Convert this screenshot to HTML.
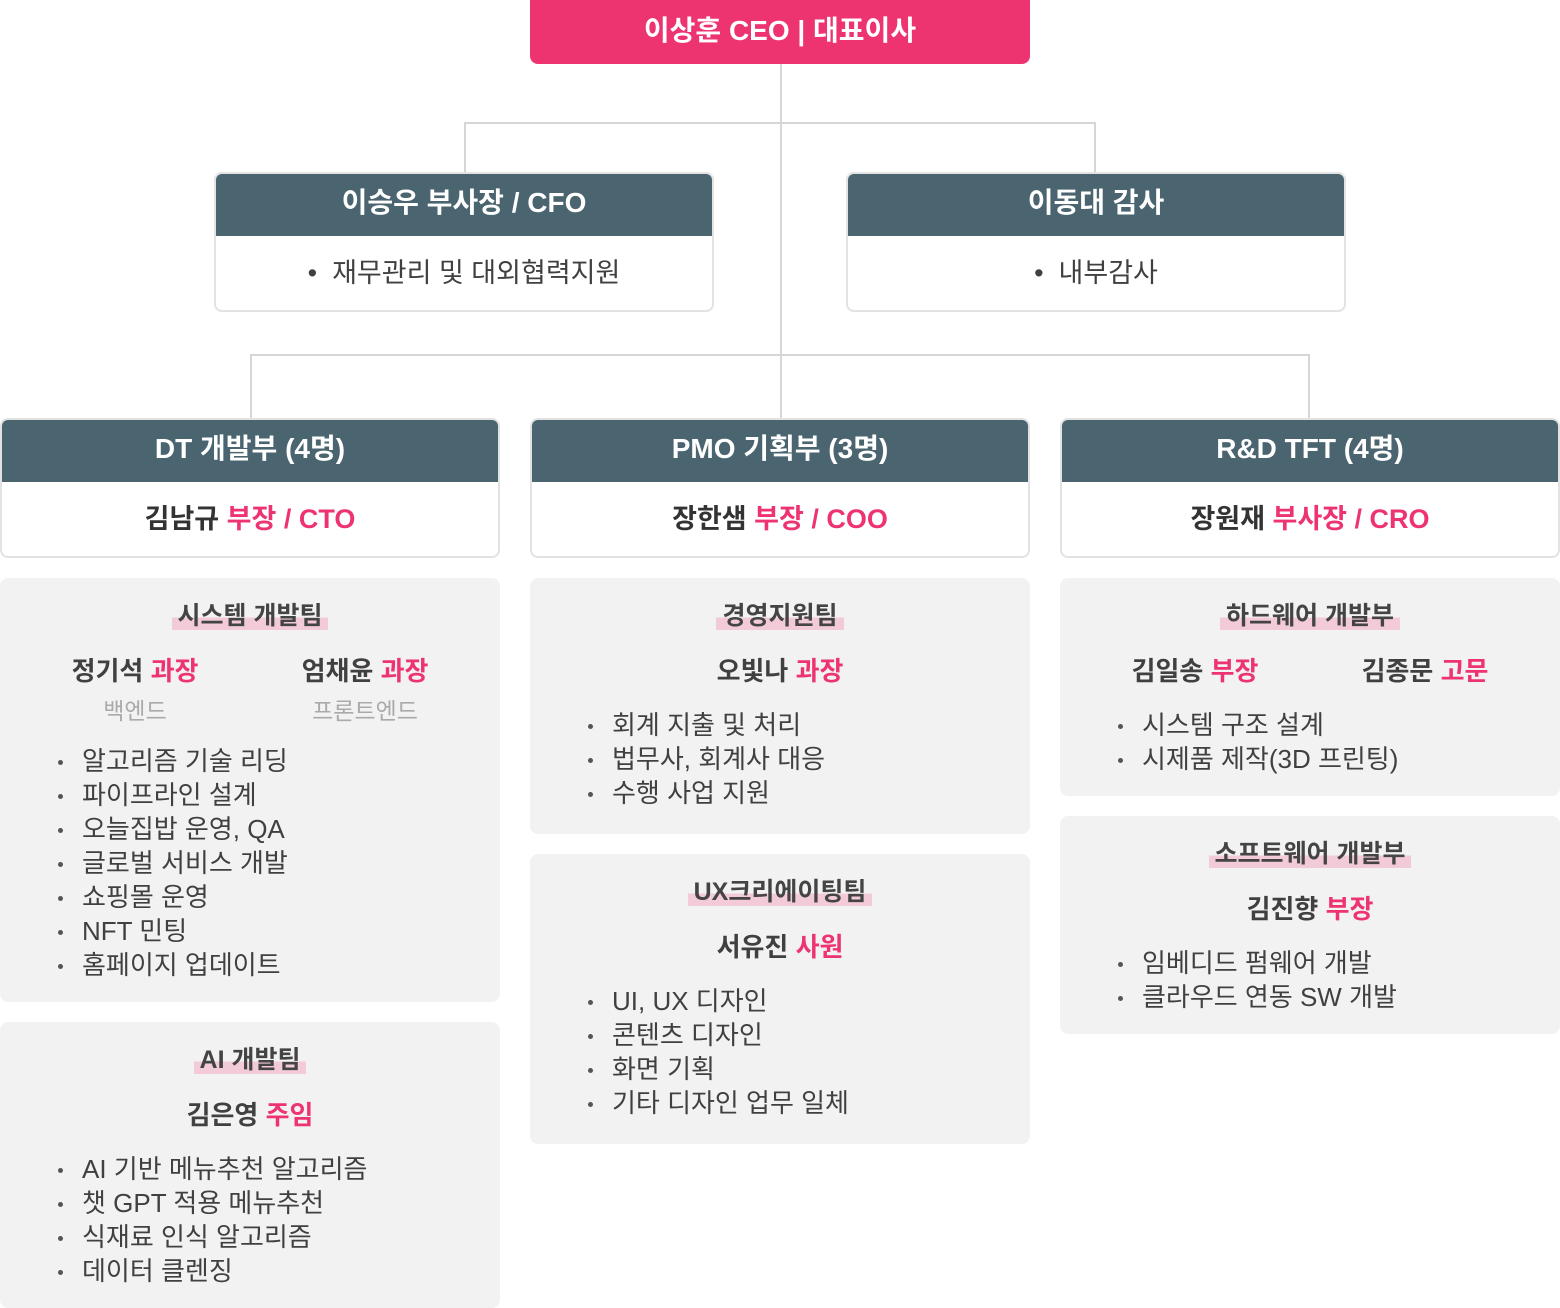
<!DOCTYPE html>
<html><head><meta charset="utf-8"><style>
*{margin:0;padding:0;box-sizing:border-box}
body{width:1560px;height:1308px;background:#fff;position:relative;overflow:hidden;font-family:"Liberation Sans","Noto Sans CJK KR",sans-serif;color:#404040}
.a{position:absolute}
.ln{position:absolute;background:#d6d6d6}
.ceo{left:530px;top:0;width:500px;height:64px;background:#ee3371;border-radius:0 0 8px 8px;color:#fff;font-size:28px;font-weight:bold;text-align:center;line-height:62px}
.card{position:absolute;width:500px;height:140px;border:2px solid #e2e2e2;border-radius:8px;background:#fff;overflow:hidden}
.hd{height:64px;margin:-2px -2px 0;background:#4a6470;color:#fff;font-size:28px;font-weight:bold;text-align:center;line-height:62px}
.bd{text-align:center;font-size:27px;line-height:74px}
.nm{font-weight:bold;color:#333}
.pk{color:#ee3371;font-weight:bold}
.gb{position:absolute;width:500px;background:#f2f2f2;border-radius:8px}
.tt{position:absolute;left:0;width:100%;text-align:center;font-size:25px;font-weight:bold;color:#444}
.tt span{background:linear-gradient(to bottom,transparent 55%,#f2cad8 55%);padding:0 6px}
.n{position:absolute;text-align:center;font-size:26px;font-weight:bold;color:#404040;white-space:nowrap}
.s{position:absolute;text-align:center;font-size:23px;color:#aaa}
ul{position:absolute;list-style:none;font-size:26px;line-height:34px;color:#404040}
ul li{position:relative;padding-left:24px;white-space:nowrap}
ul li:before{content:"";position:absolute;left:0;top:16px;width:5px;height:5px;border-radius:50%;background:#555}
</style></head><body>
<div class="ln" style="left:780px;top:64px;width:2px;height:354px"></div>
<div class="ln" style="left:464px;top:122px;width:632px;height:2px"></div>
<div class="ln" style="left:464px;top:122px;width:2px;height:50px"></div>
<div class="ln" style="left:1094px;top:122px;width:2px;height:50px"></div>
<div class="ln" style="left:250px;top:354px;width:1060px;height:2px"></div>
<div class="ln" style="left:250px;top:354px;width:2px;height:64px"></div>
<div class="ln" style="left:1308px;top:354px;width:2px;height:64px"></div>

<div class="a ceo">이상훈 CEO | 대표이사</div>

<div class="card" style="left:214px;top:172px"><div class="hd">이승우 부사장 / CFO</div><div class="bd">•&nbsp; 재무관리 및 대외협력지원</div></div>
<div class="card" style="left:846px;top:172px"><div class="hd">이동대 감사</div><div class="bd">•&nbsp; 내부감사</div></div>

<div class="card" style="left:0;top:418px"><div class="hd">DT 개발부 (4명)</div><div class="bd"><span class="nm">김남규</span> <span class="pk">부장 / CTO</span></div></div>
<div class="card" style="left:530px;top:418px"><div class="hd">PMO 기획부 (3명)</div><div class="bd"><span class="nm">장한샘</span> <span class="pk">부장 / COO</span></div></div>
<div class="card" style="left:1060px;top:418px"><div class="hd">R&amp;D TFT (4명)</div><div class="bd"><span class="nm">장원재</span> <span class="pk">부사장 / CRO</span></div></div>

<!-- DT -->
<div class="gb" style="left:0;top:578px;height:424px">
<div class="tt" style="top:18px"><span>시스템 개발팀</span></div>
<div class="n" style="left:35px;width:200px;top:73px">정기석 <span class="pk">과장</span></div>
<div class="n" style="left:265px;width:200px;top:73px">엄채윤 <span class="pk">과장</span></div>
<div class="s" style="left:35px;width:200px;top:114px">백엔드</div>
<div class="s" style="left:265px;width:200px;top:114px">프론트엔드</div>
<ul style="left:58px;top:166px"><li>알고리즘 기술 리딩</li><li>파이프라인 설계</li><li>오늘집밥 운영, QA</li><li>글로벌 서비스 개발</li><li>쇼핑몰 운영</li><li>NFT 민팅</li><li>홈페이지 업데이트</li></ul>
</div>
<div class="gb" style="left:0;top:1022px;height:286px">
<div class="tt" style="top:18px"><span>AI 개발팀</span></div>
<div class="n" style="left:0;width:500px;top:73px">김은영 <span class="pk">주임</span></div>
<ul style="left:58px;top:130px"><li>AI 기반 메뉴추천 알고리즘</li><li>챗 GPT 적용 메뉴추천</li><li>식재료 인식 알고리즘</li><li>데이터 클렌징</li></ul>
</div>

<!-- PMO -->
<div class="gb" style="left:530px;top:578px;height:256px">
<div class="tt" style="top:18px"><span>경영지원팀</span></div>
<div class="n" style="left:0;width:500px;top:73px">오빛나 <span class="pk">과장</span></div>
<ul style="left:58px;top:130px"><li>회계 지출 및 처리</li><li>법무사, 회계사 대응</li><li>수행 사업 지원</li></ul>
</div>
<div class="gb" style="left:530px;top:854px;height:290px">
<div class="tt" style="top:18px"><span>UX크리에이팅팀</span></div>
<div class="n" style="left:0;width:500px;top:73px">서유진 <span class="pk">사원</span></div>
<ul style="left:58px;top:130px"><li>UI, UX 디자인</li><li>콘텐츠 디자인</li><li>화면 기획</li><li>기타 디자인 업무 일체</li></ul>
</div>

<!-- R&D -->
<div class="gb" style="left:1060px;top:578px;height:218px">
<div class="tt" style="top:18px"><span>하드웨어 개발부</span></div>
<div class="n" style="left:35px;width:200px;top:73px">김일송 <span class="pk">부장</span></div>
<div class="n" style="left:265px;width:200px;top:73px">김종문 <span class="pk">고문</span></div>
<ul style="left:58px;top:130px"><li>시스템 구조 설계</li><li>시제품 제작(3D 프린팅)</li></ul>
</div>
<div class="gb" style="left:1060px;top:816px;height:218px">
<div class="tt" style="top:18px"><span>소프트웨어 개발부</span></div>
<div class="n" style="left:0;width:500px;top:73px">김진향 <span class="pk">부장</span></div>
<ul style="left:58px;top:130px"><li>임베디드 펌웨어 개발</li><li>클라우드 연동 SW 개발</li></ul>
</div>
</body></html>
